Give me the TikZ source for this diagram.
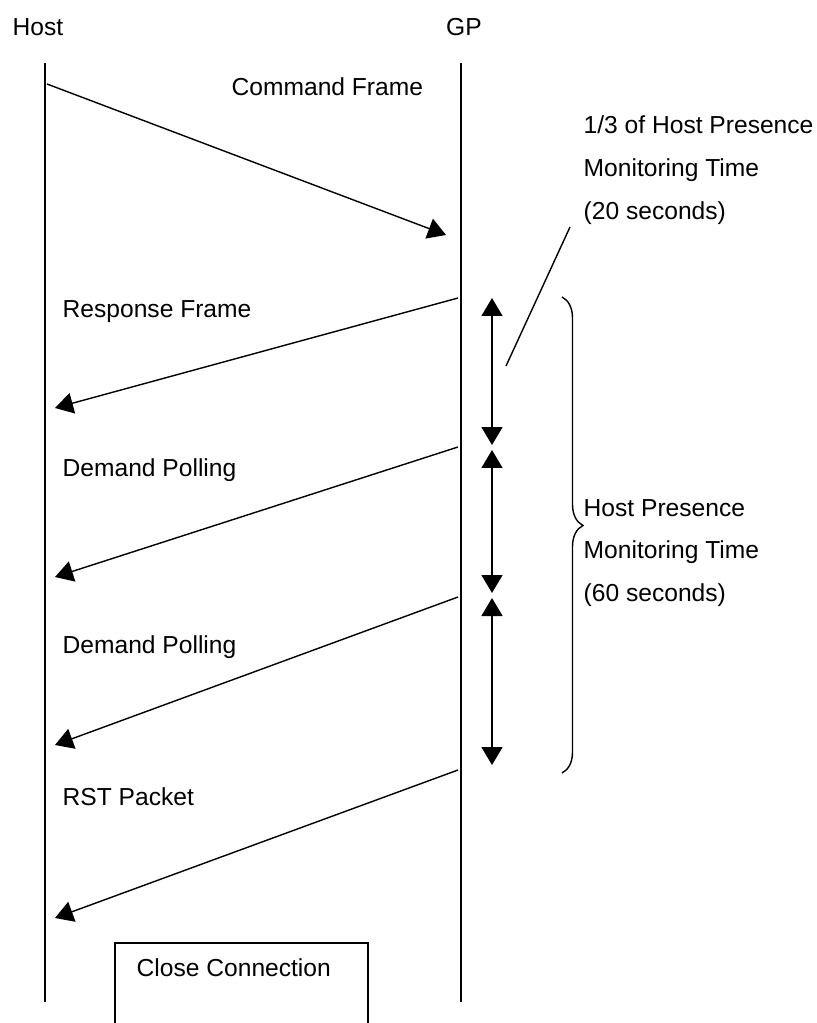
\documentclass[tikz,border=0pt]{standalone}
\usepackage{fontspec}
\setmainfont{Liberation Sans}
\usetikzlibrary{arrows.meta,decorations.pathreplacing}

\begin{document}
\begin{tikzpicture}[x=0.02cm, y=-0.02cm, line width=0.8pt, >={Triangle[length=0.36cm,width=0.42cm]},
  msg/.style={->},
  lbl/.style={font=\fontsize{14}{24.4}\selectfont, inner sep=0pt},
  note/.style={lbl, anchor=west, align=left}]
\useasboundingbox (0,0) rectangle (817,1023);
\begin{scope}[every node/.style={lbl}]
\node (host) at (38,27) {Host};
\node (gp) at (464,27) {GP};
\node [note] (cmd) at (231,87) {Command Frame};
\node [note] (resp) at (62,312) {Response Frame};
\node [note] (poll1) at (62,470) {Demand Polling};
\node [note] (poll2) at (62,647) {Demand Polling};
\node [note] (rst) at (62,797) {RST Packet};
\node [note] (third) at (583,170) {1/3 of Host Presence\\Monitoring Time\\(20 seconds)};
\node [note] (full) at (583,553) {Host Presence\\Monitoring Time\\(60 seconds)};
\node [note] (close) at (136,968) {Close Connection};
\end{scope}
% lifelines
\coordinate (h0) at (45,63);
\coordinate (h1) at (45,1002);
\coordinate (g0) at (461,63);
\coordinate (g1) at (461,1002);
\draw (h0) -- (h1);
\draw (g0) -- (g1);
% messages
\coordinate (c0) at (47,84);   \coordinate (c1) at (446,235);
\coordinate (r0) at (458,298); \coordinate (r1) at (55,408);
\coordinate (p0) at (458,447); \coordinate (p1) at (55,577);
\coordinate (q0) at (458,597); \coordinate (q1) at (55,745);
\coordinate (s0) at (458,770); \coordinate (s1) at (55,918);
\path [msg]
	(c0) edge (c1)
	(r0) edge (r1)
	(p0) edge (p1)
	(q0) edge (q1)
	(s0) edge (s1)
         ;
% timers
\coordinate (t0) at (492,298);
\coordinate (t1) at (492,445);
\coordinate (t2) at (492,450);
\coordinate (t3) at (492,593);
\coordinate (t4) at (492,598);
\coordinate (t5) at (492,765);
\path [<->]
	(t0) edge (t1)
	(t2) edge (t3)
	(t4) edge (t5)
         ;
\coordinate (l0) at (570,227);
\coordinate (l1) at (506,366);
\draw (l0) -- (l1);
\coordinate (b0) at (562,297);
\coordinate (b1) at (562,773);
\draw [decorate, decoration={brace, amplitude=0.42cm, aspect=0.48}] (b0) -- (b1);
% close box
\coordinate (k0) at (115,1030);
\coordinate (k1) at (115,943);
\coordinate (k2) at (368,943);
\coordinate (k3) at (368,1030);
\draw (k0) -- (k1) -- (k2) -- (k3);
\end{tikzpicture}
\end{document}
